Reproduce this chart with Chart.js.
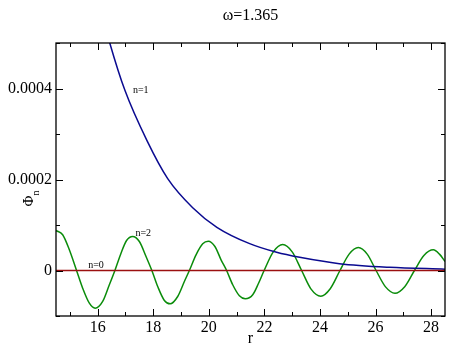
<!DOCTYPE html>
<html>
<head>
<meta charset="utf-8">
<script src="https://cdn.jsdelivr.net/npm/chart.js@4"></script>
<style>
  html, body { margin: 0; padding: 0; background: #fff; }
  #wrap { width: 463px; height: 351px; }
</style>
</head>
<body>
<div id="wrap"><canvas id="myChart" width="463" height="351"></canvas></div>
<script>
  // values
  var n0R = [14.5, 28.5];
  var n0Phi = [0, 0];

  var n1R = [16.0, 16.44, 16.98, 17.77, 18.52, 19.42, 20.29, 21.47, 22.44, 23.27, 24.7, 26.5, 28.5];
  var n1Phi = [6.0e-4, 4.99e-4, 3.96e-4, 2.86e-4, 2.02e-4, 1.38e-4, 9.5e-5, 5.9e-5, 4.0e-5, 2.9e-5, 1.5e-5, 7e-6, 3e-6];

  var n2R = [14.5, 14.74, 14.98, 15.24, 15.46, 15.70, 15.91, 16.18, 16.42, 16.62,
             16.84, 17.04, 17.26, 17.50, 17.74, 17.95, 18.16, 18.40, 18.61, 18.88,
             19.12, 19.30, 19.54, 19.78, 19.98, 20.22, 20.44, 20.64, 20.86, 21.10,
             21.31, 21.58, 21.79, 21.99, 22.32, 22.66, 23.0, 23.34, 23.68, 24.03,
             24.37, 24.72, 25.05, 25.38, 25.7, 26.02, 26.36, 26.70, 27.05, 27.40,
             27.74, 28.08, 28.3, 28.5];
  var n2Phi = [8.79e-5, 7.85e-5, 4.55e-5, 0, -3.89e-5, -7.19e-5, -8.29e-5, -6.81e-5, -3.14e-5, 0,
               3.80e-5, 6.59e-5, 7.47e-5, 6.37e-5, 3.08e-5, 0, -3.52e-5, -6.59e-5, -7.32e-5, -5.71e-5,
               -2.42e-5, 0, 3.45e-5, 5.87e-5, 6.44e-5, 5.28e-5, 2.35e-5, 0, -3.14e-5, -5.56e-5,
               -6.22e-5, -5.34e-5, -2.8e-5, 0, 4.1e-5, 5.71e-5, 4.1e-5, 0, -4.1e-5, -5.65e-5,
               -4.0e-5, 0, 3.6e-5, 5.05e-5, 3.6e-5, 0, -3.6e-5, -4.99e-5, -3.55e-5, 0,
               3.3e-5, 4.55e-5, 3.6e-5, 1.98e-5];

  var xTickValues = [15, 16, 17, 18, 19, 20, 21, 22, 23, 24, 25, 26, 27, 28];
  var xTickLabels = ['16', '18', '20', '22', '24', '26', '28'];
  var yTickValues = [0, 0.0002, 0.0004];
  var yTickLabels = ['0', '0.0002', '0.0004'];

  var curveNames = ['n=0', 'n=1', 'n=2'];
  var curveLabelR = [15.94, 17.55, 17.64];
  var curveLabelPhi = [1.2e-5, 3.96e-4, 8.2e-5];

  var serif = '"Liberation Serif", "Times New Roman", serif';

  function pts(xs, ys) {
    return xs.map(function (x, i) { return { x: x, y: ys[i] }; });
  }

  // inward ticks on all four sides, frame, axis title and curve labels
  var decor = {
    id: 'decor',
    afterDraw: function (chart) {
      var ctx = chart.ctx;
      var a = chart.chartArea;
      var xs = chart.scales.x, ys = chart.scales.y;
      ctx.save();
      ctx.strokeStyle = '#000';
      ctx.lineWidth = 1;
      xs.ticks.forEach(function (t) {
        var len = t.label !== '' ? 7 : 4;
        var px = Math.round(xs.getPixelForValue(t.value)) + 0.5;
        ctx.beginPath();
        ctx.moveTo(px, a.bottom); ctx.lineTo(px, a.bottom - len);
        ctx.moveTo(px, a.top); ctx.lineTo(px, a.top + len);
        ctx.stroke();
      });
      ys.ticks.forEach(function (t) {
        var len = t.label !== '' ? 7 : 4;
        var py = Math.round(ys.getPixelForValue(t.value)) + 0.5;
        ctx.beginPath();
        ctx.moveTo(a.left, py); ctx.lineTo(a.left + len, py);
        ctx.moveTo(a.right, py); ctx.lineTo(a.right - len, py);
        ctx.stroke();
      });
      ctx.lineWidth = 1.3;
      ctx.strokeRect(a.left, a.top, a.right - a.left, a.bottom - a.top);

      // curve labels
      ctx.fillStyle = '#000';
      ctx.font = '10px ' + serif;
      ctx.textAlign = 'center';
      ctx.textBaseline = 'middle';
      curveNames.forEach(function (s, i) {
        ctx.fillText(s, xs.getPixelForValue(curveLabelR[i]), ys.getPixelForValue(curveLabelPhi[i]));
      });

      // y axis title: Phi with subscript n, rotated
      ctx.translate(29.5, 201);
      ctx.rotate(-Math.PI / 2);
      ctx.font = '15px ' + serif;
      ctx.fillText('Φ', 0, 0);
      ctx.font = '10px ' + serif;
      ctx.fillText('n', 8, 7);
      ctx.restore();
    }
  };

  var ctx = document.getElementById('myChart').getContext('2d');

  var data = {
    datasets: [
      { label: 'n=0', data: pts(n0R, n0Phi), borderColor: '#9b1010', borderWidth: 1.5 },
      { label: 'n=1', data: pts(n1R, n1Phi), borderColor: '#0a0a90', borderWidth: 1.5, cubicInterpolationMode: 'monotone' },
      { label: 'n=2', data: pts(n2R, n2Phi), borderColor: '#0a8c0a', borderWidth: 1.5, cubicInterpolationMode: 'monotone' }
    ]
  };

  var options = {
    responsive: false,
    animation: false,
    showLine: true,
    elements: { point: { radius: 0 } },
    layout: { padding: { left: 0, right: 18, top: 0, bottom: 0 } },
    plugins: {
      legend: { display: false },
      tooltip: { enabled: false },
      title: {
        display: true,
        text: 'ω=1.365',
        fullSize: false,
        color: '#000',
        font: { family: serif, size: 16, weight: 'normal' },
        padding: { top: 6, bottom: 17.8 }
      }
    },
    scales: {
      x: {
        type: 'linear',
        min: 14.5,
        max: 28.5,
        afterFit: function (s) { s.height = 35; },
        afterBuildTicks: function (s) {
          s.ticks = xTickValues.map(function (v) { return { value: v }; });
        },
        grid: { drawOnChartArea: false, drawTicks: false },
        border: { display: false },
        title: {
          display: true, text: 'r', color: '#000',
          font: { family: serif, size: 16 },
          padding: { top: 0, bottom: 3 }
        },
        ticks: {
          autoSkip: false,
          maxRotation: 0,
          padding: 2,
          color: '#000',
          font: { family: serif, size: 16 },
          callback: function (v) {
            var s = String(v);
            return xTickLabels.indexOf(s) >= 0 ? s : '';
          }
        }
      },
      y: {
        type: 'linear',
        min: -0.0001,
        max: 0.0005,
        afterFit: function (s) { s.width = 56; },
        grid: { drawOnChartArea: false, drawTicks: false },
        border: { display: false },
        ticks: {
          stepSize: 0.0001,
          includeBounds: false,
          autoSkip: false,
          padding: 4,
          color: '#000',
          font: { family: serif, size: 16 },
          callback: function (v) {
            for (var i = 0; i < yTickValues.length; i++) {
              if (Math.abs(v - yTickValues[i]) < 1e-9) return yTickLabels[i];
            }
            return '';
          }
        }
      }
    }
  };

  var chart = new Chart(ctx, {
    type: 'scatter',
    data: data,
    options: options,
    plugins: [decor]
  });
</script>
</body>
</html>
